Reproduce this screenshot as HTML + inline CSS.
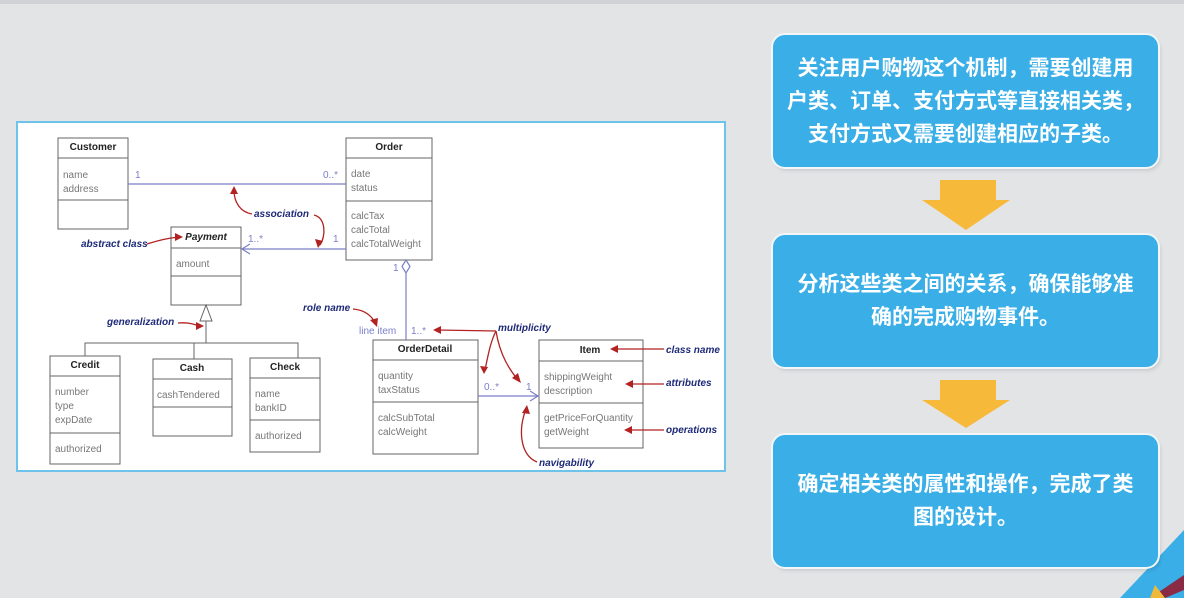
<!DOCTYPE html>
<html><head><meta charset="utf-8"><style>
html,body{margin:0;padding:0;}
body{width:1184px;height:598px;overflow:hidden;background:#e3e4e6;position:relative;font-family:"Liberation Sans",sans-serif;}
.box{position:absolute;left:773px;width:385px;height:132px;background:#3aaee6;border-radius:12px;box-shadow:0 0 0 2px #f2f6f8,2px 3px 4px rgba(0,0,0,.15);color:#fff;font-family:"Liberation Sans","Noto Sans CJK SC",sans-serif;font-weight:bold;font-size:21px;line-height:33px;text-align:center;box-sizing:border-box;display:flex;align-items:center;justify-content:center;white-space:nowrap;}
</style></head><body>
<svg width="1184" height="598" style="position:absolute;left:0;top:0">
<polygon points="0,0 1184,0 1184,4 0,4" fill="#d0d2d5"/>
<polygon points="1120,598 1184,530 1184,598" fill="#3aaee6"/>
<polygon points="1150,598 1184,575 1184,590 1165,598" fill="#8b2a45"/>
<polygon points="1150,598 1155,585 1165,598" fill="#f0b93a"/>
<polygon points="940,180 996,180 996,200 1010,200 966,230 922,200 940,200" fill="#f7b93a"/>
<polygon points="940,380 996,380 996,400 1010,400 966,428 922,400 940,400" fill="#f7b93a"/>
<rect x="17" y="122" width="708" height="349" fill="#fff" stroke="#6ec3ea" stroke-width="2"/>
<g font-family="Liberation Sans" font-size="10" fill="#777" stroke="#666" stroke-width="1">
<rect x="58" y="138" width="70" height="91" fill="#fff"/><line x1="58" y1="158" x2="128" y2="158"/><line x1="58" y1="200" x2="128" y2="200"/>
<rect x="171" y="227" width="70" height="78" fill="#fff"/><line x1="171" y1="248" x2="241" y2="248"/><line x1="171" y1="276" x2="241" y2="276"/>
<rect x="50" y="356" width="70" height="108" fill="#fff"/><line x1="50" y1="376" x2="120" y2="376"/><line x1="50" y1="433" x2="120" y2="433"/>
<rect x="153" y="359" width="79" height="77" fill="#fff"/><line x1="153" y1="379" x2="232" y2="379"/><line x1="153" y1="407" x2="232" y2="407"/>
<rect x="250" y="358" width="70" height="94" fill="#fff"/><line x1="250" y1="378" x2="320" y2="378"/><line x1="250" y1="420" x2="320" y2="420"/>
<rect x="346" y="138" width="86" height="122" fill="#fff"/><line x1="346" y1="158" x2="432" y2="158"/><line x1="346" y1="201" x2="432" y2="201"/>
<rect x="373" y="340" width="105" height="114" fill="#fff"/><line x1="373" y1="360" x2="478" y2="360"/><line x1="373" y1="402" x2="478" y2="402"/>
<rect x="539" y="340" width="104" height="108" fill="#fff"/><line x1="539" y1="361" x2="643" y2="361"/><line x1="539" y1="403" x2="643" y2="403"/>
<polyline points="206,321 206,343" fill="none"/><polyline points="85,356 85,343 298,343 298,358" fill="none"/><line x1="194" y1="343" x2="194" y2="359"/>
<polygon points="206,305 200,321 212,321" fill="#fff"/>
</g>
<g stroke="#7a7fc8" stroke-width="1.2" fill="none">
<line x1="128" y1="184" x2="346" y2="184"/>
<line x1="241" y1="249" x2="346" y2="249"/><polyline points="250,244 242,249 250,254"/>
<line x1="406" y1="273" x2="406" y2="340"/><polygon points="406,260 410,266.5 406,273 402,266.5" fill="#fff"/>
<line x1="478" y1="396" x2="539" y2="396"/><polyline points="530,391 538,396 530,401"/>
</g>
<g font-family="Liberation Sans" font-size="10" fill="#7a7fc8">
<text x="135" y="178">1</text><text x="323" y="178">0..*</text>
<text x="248" y="242">1..*</text><text x="333" y="242">1</text>
<text x="393" y="271">1</text><text x="359" y="334">line item</text><text x="411" y="334">1..*</text>
<text x="484" y="390">0..*</text><text x="526" y="390">1</text>
</g>
<g font-family="Liberation Sans" font-size="10" fill="#777">
<text x="93" y="150" font-weight="bold" fill="#222" text-anchor="middle">Customer</text>
<text x="63" y="178">name</text><text x="63" y="192">address</text>
<text x="206" y="240" font-weight="bold" font-style="italic" fill="#222" text-anchor="middle">Payment</text>
<text x="176" y="267">amount</text>
<text x="85" y="368" font-weight="bold" fill="#222" text-anchor="middle">Credit</text>
<text x="55" y="395">number</text><text x="55" y="409">type</text><text x="55" y="423">expDate</text><text x="55" y="452">authorized</text>
<text x="192" y="371" font-weight="bold" fill="#222" text-anchor="middle">Cash</text>
<text x="157" y="398">cashTendered</text>
<text x="285" y="370" font-weight="bold" fill="#222" text-anchor="middle">Check</text>
<text x="255" y="397">name</text><text x="255" y="411">bankID</text><text x="255" y="439">authorized</text>
<text x="389" y="150" font-weight="bold" fill="#222" text-anchor="middle">Order</text>
<text x="351" y="177">date</text><text x="351" y="191">status</text>
<text x="351" y="219">calcTax</text><text x="351" y="233">calcTotal</text><text x="351" y="247">calcTotalWeight</text>
<text x="425" y="352" font-weight="bold" fill="#222" text-anchor="middle">OrderDetail</text>
<text x="378" y="379">quantity</text><text x="378" y="393">taxStatus</text>
<text x="378" y="421">calcSubTotal</text><text x="378" y="435">calcWeight</text>
<text x="590" y="353" font-weight="bold" fill="#222" text-anchor="middle">Item</text>
<text x="544" y="380">shippingWeight</text><text x="544" y="394">description</text>
<text x="544" y="421">getPriceForQuantity</text><text x="544" y="435">getWeight</text>
</g>
<g font-family="Liberation Sans" font-size="10" font-weight="bold" font-style="italic" fill="#1e2a78">
<text x="254" y="217">association</text><text x="81" y="247">abstract class</text>
<text x="107" y="325">generalization</text><text x="303" y="311">role name</text>
<text x="498" y="331">multiplicity</text><text x="666" y="353">class name</text>
<text x="666" y="386">attributes</text><text x="666" y="433">operations</text>
<text x="539" y="466">navigability</text>
</g>
<g stroke="#b22222" stroke-width="1.3" fill="none">
<path d="M252,214 C240,212 234,202 234,190"/><path d="M314,215 C326,218 326,236 320,245"/>
<path d="M147,244 C160,240 168,238 179,237"/><path d="M178,323 C190,322 195,325 200,326"/>
<path d="M353,309 C365,310 372,316 375,323"/><path d="M496,331 L437,330"/>
<path d="M496,331 C490,343 488,356 485,370"/><path d="M496,331 C500,356 510,370 518,380"/>
<path d="M664,349 L614,349"/><path d="M664,384 L629,384"/><path d="M664,430 L628,430"/>
<path d="M537,462 C520,455 518,430 526,409"/>
</g>
<g fill="#b22222">
<polygon points="234,186 230,194 238,194"/><polygon points="318,248 315,239 323,241"/>
<polygon points="183,237 175,233 175,241"/><polygon points="204,326 196,322 196,330"/>
<polygon points="377,327 370,320 378,318"/><polygon points="433,330 441,326 441,334"/>
<polygon points="484,374 480,366 488,367"/><polygon points="521,383 512,378 518,373"/>
<polygon points="610,349 618,345 618,353"/><polygon points="625,384 633,380 633,388"/>
<polygon points="624,430 632,426 632,434"/><polygon points="527,405 522,413 530,414"/>
</g>
</svg>
<div class="box" style="top:35px">关注用户购物这个机制，需要创建用<br>户类、订单、支付方式等直接相关类，<br>支付方式又需要创建相应的子类。</div>
<div class="box" style="top:235px">分析这些类之间的关系，确保能够准<br>确的完成购物事件。</div>
<div class="box" style="top:435px">确定相关类的属性和操作，完成了类<br>图的设计。</div>
</body></html>
